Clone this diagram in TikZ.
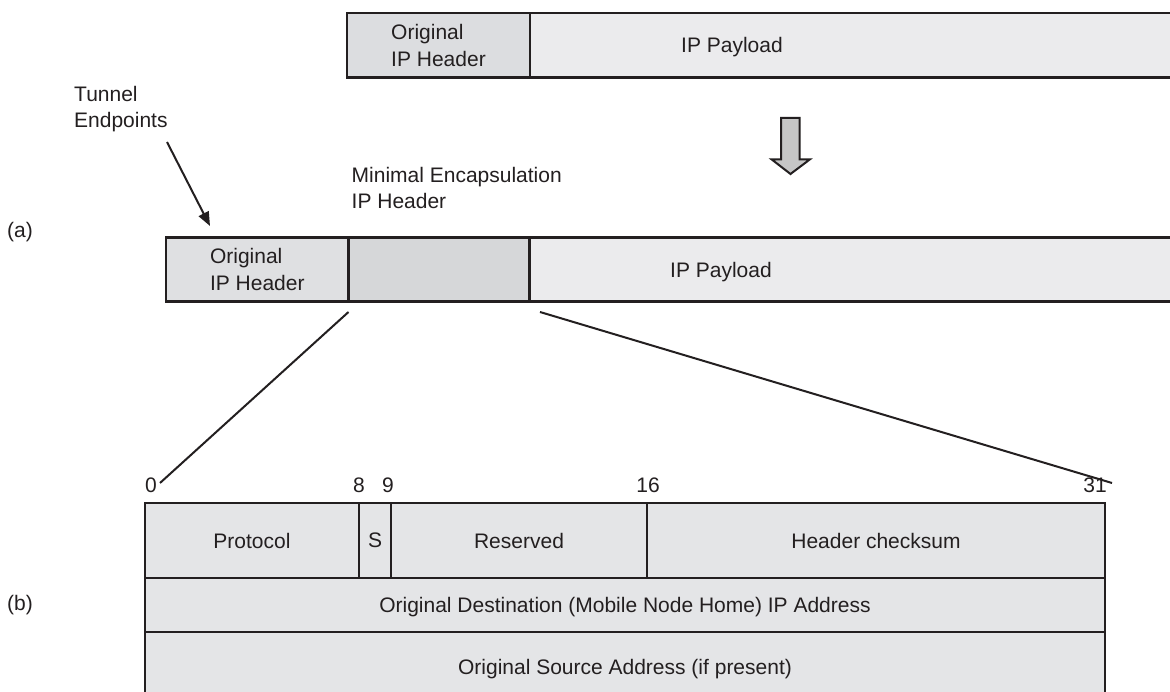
\documentclass[tikz,border=0pt]{standalone}
\usepackage{fontspec}
\setmainfont{Liberation Sans}
\usetikzlibrary{arrows.meta}
\definecolor{ink}{HTML}{231F20}
\definecolor{hdrfill}{HTML}{DCDDE0}
\definecolor{payfill}{HTML}{EBEBED}
\definecolor{midA}{HTML}{DFE0E2}
\definecolor{midB}{HTML}{D6D7D9}
\definecolor{botfill}{HTML}{E4E5E7}
\definecolor{arrfill}{HTML}{C6C6C6}
\begin{document}
\begin{tikzpicture}[x=1pt,y=-1pt,
  font=\fontsize{21}{26.5}\selectfont,
  cell/.style={draw=ink, inner sep=0pt, outer sep=0pt, line width=2.7pt, text=ink},
  bcell/.style={draw=ink, inner sep=0pt, outer sep=0pt, line width=2.3pt, fill=botfill, text=ink, text depth=0pt},
  lbl/.style={inner sep=0pt, text=ink},
  single/.style={inner sep=0pt, text=ink, text depth=0pt},
  conn/.style={draw=ink, line width=2pt}]
\clip (0,0) rectangle (1170,692);
\fill[white] (0,0) rectangle (1170,692);

% top bar
\node[cell, fill=hdrfill, minimum width=183pt, minimum height=64.5pt, align=left] (t1) at (438.5,45.3) {Original\\IP Header};
\node[cell, fill=payfill, minimum width=660pt, minimum height=64.5pt] (t2) at (860,45.3) {};
\node[single] (t2txt) at (732,45.3) {IP Payload};

% block arrow
\draw[draw=ink, line width=2pt, fill=arrfill, line join=miter]
  (781,118) -- (799.5,118) -- (799.5,159.3) -- (810,159.3) -- (790.5,174) -- (771.5,159.3) -- (781,159.3) -- cycle;

% labels
\node[lbl, align=left, anchor=west] (te) at (74,109) {Tunnel\\Endpoints};
\node[lbl, align=left, anchor=west] (me) at (351.5,188) {Minimal Encapsulation\\IP Header};
\node[lbl] (la) at (20,232) {(a)};
\node[lbl] (lb) at (20,605) {(b)};

% middle bar
\node[cell, fill=midA, minimum width=182.5pt, minimum height=64.4pt, align=left] (m1) at (257.3,269.5) {Original\\IP Header};
\node[cell, fill=midB, minimum width=181pt, minimum height=64.4pt] (m2) at (439,269.5) {};
\node[cell, fill=payfill, minimum width=660.5pt, minimum height=64.4pt] (m3) at (859.75,269.5) {};
\node[single] (m3txt) at (721,269.5) {IP Payload};

% tunnel endpoints arrow
\coordinate (tes) at (167,142);
\coordinate (tee) at (210,226);
\draw[conn, -{Triangle[length=14pt,width=11pt]}] (tes) -- (tee);

% zoom lines
\coordinate (zl1) at (348.5,312);
\coordinate (zl2) at (160,483);
\coordinate (zr1) at (540,312);
\coordinate (zr2) at (1112,483);
\draw[conn] (zl1) -- (zl2);
\draw[conn] (zr1) -- (zr2);

% bit numbers
\node[single] (n0) at (151,485.5) {0};
\node[single] (n8) at (359,485.5) {8};
\node[single] (n9) at (388,485.5) {9};
\node[single] (n16) at (648,485.5) {16};
\node[single] (n31) at (1095,485.5) {31};

% bottom header
\node[bcell, minimum width=960pt, minimum height=70pt] (b6) at (625,667) {Original Source Address (if present)};
\node[bcell, minimum width=960pt, minimum height=54pt] (b5) at (625,605) {Original Destination (Mobile Node Home) IP Address};
\node[bcell, minimum width=214pt, minimum height=75pt] (b1) at (252,540.5) {Protocol};
\node[bcell, minimum width=32pt, minimum height=75pt] (b2) at (375,540.5) {S};
\node[bcell, minimum width=256pt, minimum height=75pt] (b3) at (519,540.5) {Reserved};
\node[bcell, minimum width=458pt, minimum height=75pt] (b4) at (876,540.5) {Header checksum};
\end{tikzpicture}
\end{document}
